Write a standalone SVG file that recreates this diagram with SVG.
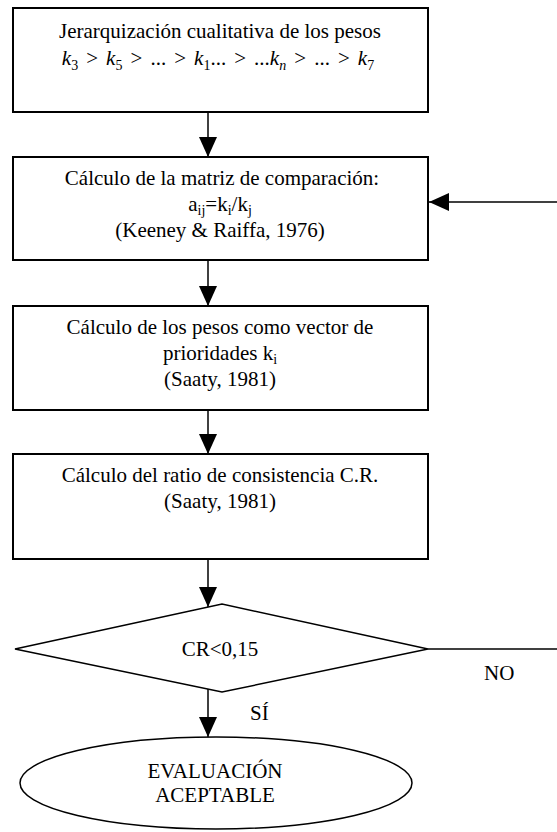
<svg xmlns="http://www.w3.org/2000/svg" width="557" height="832" viewBox="0 0 557 832">
<style>
  .box { fill: #fff; stroke: #000; stroke-width: 2; }
  .shape { fill: #fff; stroke: #000; stroke-width: 1.5; }
  .t { font-family: "Liberation Serif", "Times New Roman", serif; font-size: 21px; fill: #000; text-anchor: middle; }
  .l { text-anchor: start; }
  .conn { stroke: #000; stroke-width: 1.5; fill: none; marker-end: url(#ah); }
  .line { stroke: #000; stroke-width: 1.5; fill: none; }
  .sub { font-size: 14px; }
</style>
<defs>
  <marker id="ah" viewBox="0 0 20 18" markerWidth="20" markerHeight="18" refX="20" refY="9" orient="auto" markerUnits="userSpaceOnUse">
    <path d="M0,0 L20,9 L0,18 Z" fill="#000"/>
  </marker>
</defs>
<rect width="557" height="832" fill="#fff"/>

<g id="connectors">
  <line class="conn" x1="208" y1="113" x2="208" y2="157"/>
  <line class="conn" x1="208" y1="261" x2="208" y2="306"/>
  <line class="conn" x1="208" y1="411" x2="208" y2="454"/>
  <line class="conn" x1="208" y1="560" x2="208" y2="607"/>
  <line class="conn" x1="208" y1="689" x2="208" y2="737"/>
  <line class="conn" x1="557" y1="202" x2="429" y2="202"/>
  <line class="line" x1="428" y1="649" x2="557" y2="649"/>
  <text class="t l" x="250" y="720">SÍ</text>
  <text class="t l" x="484" y="680">NO</text>
</g>

<g id="node-jerarquizacion">
  <rect class="box" x="13" y="8" width="415" height="104"/>
  <text class="t" x="220" y="38">Jerarquización cualitativa de los pesos</text>
  <text class="t" x="218" y="65" word-spacing="2.8"><tspan font-style="italic">k</tspan><tspan class="sub" dy="5">3</tspan><tspan dy="-5"> &gt; </tspan><tspan font-style="italic">k</tspan><tspan class="sub" dy="5">5</tspan><tspan dy="-5"> &gt; ... &gt; </tspan><tspan font-style="italic">k</tspan><tspan class="sub" dy="5">1</tspan><tspan dy="-5">... &gt; ...</tspan><tspan font-style="italic">k</tspan><tspan class="sub" font-style="italic" dy="5">n</tspan><tspan dy="-5"> &gt; ... &gt; </tspan><tspan font-style="italic">k</tspan><tspan class="sub" dy="5">7</tspan></text>
</g>

<g id="node-matriz">
  <rect class="box" x="13" y="157" width="415" height="103"/>
  <text class="t" x="222" y="185">Cálculo de la matriz de comparación:</text>
  <text class="t" x="220" y="211">a<tspan class="sub" dy="4">ij</tspan><tspan dy="-4">=k</tspan><tspan class="sub" dy="4">i</tspan><tspan dy="-4">/k</tspan><tspan class="sub" dy="4">j</tspan></text>
  <text class="t" x="220" y="237">(Keeney &amp; Raiffa, 1976)</text>
</g>

<g id="node-pesos">
  <rect class="box" x="13" y="306" width="415" height="104"/>
  <text class="t" x="220" y="334">Cálculo de los pesos como vector de</text>
  <text class="t" x="220" y="360">prioridades k<tspan class="sub" dy="4">i</tspan></text>
  <text class="t" x="220" y="386">(Saaty, 1981)</text>
</g>

<g id="node-ratio">
  <rect class="box" x="13" y="454" width="415" height="105"/>
  <text class="t" x="220" y="482">Cálculo del ratio de consistencia C.R.</text>
  <text class="t" x="220" y="508">(Saaty, 1981)</text>
</g>

<g id="node-decision">
  <polygon class="shape" points="15,649 222,604 428,649 222,692"/>
  <text class="t" x="220" y="656">CR&lt;0,15</text>
</g>

<g id="node-evaluacion">
  <ellipse class="shape" cx="216" cy="783" rx="196" ry="46"/>
  <text class="t" x="215" y="778">EVALUACIÓN</text>
  <text class="t" x="215" y="802">ACEPTABLE</text>
</g>
</svg>
